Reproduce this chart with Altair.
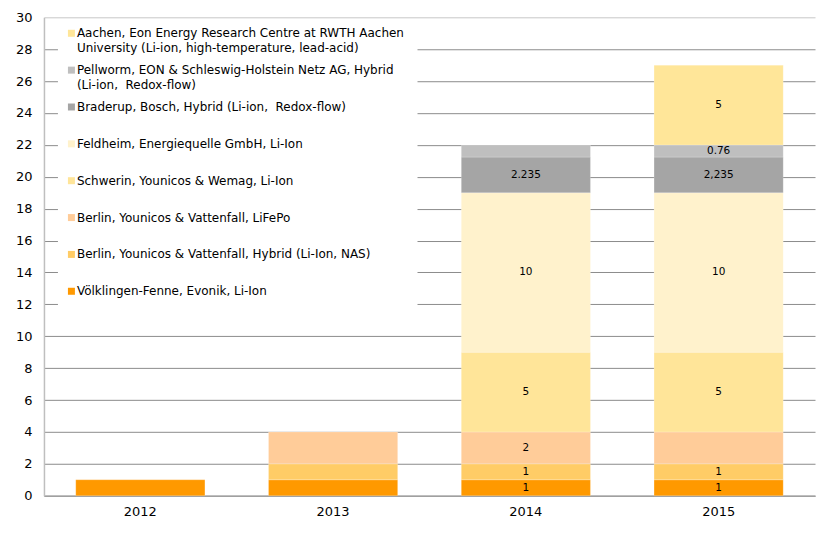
import altair as alt
import pandas as pd

FONT = "DejaVu Sans"

years = ["2012", "2013", "2014", "2015"]

# stacking order: bottom to top
series = [
    "Völklingen-Fenne, Evonik, Li-Ion",
    "Berlin, Younicos & Vattenfall, Hybrid (Li-Ion, NAS)",
    "Berlin, Younicos & Vattenfall, LiFePo",
    "Schwerin, Younicos & Wemag, Li-Ion",
    "Feldheim, Energiequelle GmbH, Li-Ion",
    "Braderup, Bosch, Hybrid (Li-ion,  Redox-flow)",
    "Pellworm, EON & Schleswig-Holstein Netz AG, Hybrid (Li-ion,  Redox-flow)",
    "Aachen, Eon Energy Research Centre at RWTH Aachen University (Li-ion, high-temperature, lead-acid)",
]
colors = ["#FF9900", "#FFCC66", "#FFCC99", "#FFE599", "#FFF2CC", "#A5A5A5", "#BFBFBF", "#FFE699"]

# legend text as displayed (per series, possibly wrapped)
legend_lines = [
    ["Völklingen-Fenne, Evonik, Li-Ion"],
    ["Berlin, Younicos & Vattenfall, Hybrid (Li-Ion, NAS)"],
    ["Berlin, Younicos & Vattenfall, LiFePo"],
    ["Schwerin, Younicos & Wemag, Li-Ion"],
    ["Feldheim, Energiequelle GmbH, Li-Ion"],
    ["Braderup, Bosch, Hybrid (Li-ion,\u00a0 Redox-flow)"],
    ["Pellworm, EON & Schleswig-Holstein Netz AG, Hybrid", "(Li-ion,\u00a0 Redox-flow)"],
    ["Aachen, Eon Energy Research Centre at RWTH Aachen", "University (Li-ion, high-temperature, lead-acid)"],
]

# values per series, per year
values = [
    [1, 1, 1, 1],
    [0, 1, 1, 1],
    [0, 2, 2, 2],
    [0, 0, 5, 5],
    [0, 0, 10, 10],
    [0, 0, 2.235, 2.235],
    [0, 0, 0.76, 0.76],
    [0, 0, 0, 5],
]
# data labels shown on segments
labels = [
    ["", "", "1", "1"],
    ["", "", "1", "1"],
    ["", "", "2", ""],
    ["", "", "5", "5"],
    ["", "", "10", "10"],
    ["", "", "2.235", "2,235"],
    ["", "", "", "0.76"],
    ["", "", "", "5"],
]

rows = []
for i, s in enumerate(series):
    for j, y in enumerate(years):
        rows.append({"year": y, "series": s, "idx": i, "value": values[i][j], "label": labels[i][j]})
df = pd.DataFrame(rows)

leg_rows = []
n = len(series)
for i, s in enumerate(series):
    slot = n - 1 - i
    for k, line in enumerate(legend_lines[i]):
        leg_rows.append({"series": s, "text": line, "pos": slot + k * 0.393, "first": k == 0})
leg_df = pd.DataFrame(leg_rows)

cscale = alt.Scale(domain=series, range=colors)
xscale = alt.Scale(domain=years, paddingInner=0.33, paddingOuter=0.165)
yscale = alt.Scale(domain=[0, 30], nice=False, zero=True)

xaxis = alt.Axis(labelAngle=0, domainColor="#A0A0A0", domainWidth=1.5, ticks=False,
                 labelPadding=10, labelFontSize=13, labelFont=FONT, labelColor="#000000", grid=False)
yaxis = alt.Axis(values=list(range(0, 31, 2)), grid=True,
                 gridColor={"condition": {"test": "datum.value === 30", "value": "#C8C8C8"},
                            "value": "#8C8C8C"},
                 gridWidth=1,
                 domainColor="#BFBFBF", domainWidth=1.5, ticks=False, labelFont=FONT,
                 labelFontSize=13, labelColor="#000000", labelPadding=12)

base = alt.Chart(df).transform_filter("datum.value > 0")

bars = base.mark_bar(stroke="#FFFFFF", strokeWidth=0.5, strokeOpacity=0.4).encode(
    x=alt.X("year:N", scale=xscale, axis=xaxis, title=None),
    y=alt.Y("value:Q", stack="zero", scale=yscale, axis=yaxis, title=None),
    color=alt.Color("series:N", scale=cscale, legend=None),
    order=alt.Order("idx:Q", sort="ascending"),
)

seg_text = base.transform_stack(
    stack="value", groupby=["year"], sort=[alt.SortField("idx", order="ascending")], as_=["v0", "v1"]
).transform_calculate(mid="(datum.v0 + datum.v1) / 2").transform_filter(
    "datum.label != ''"
).mark_text(font=FONT, fontSize=10.5, color="#000000", baseline="middle").encode(
    x=alt.X("year:N", scale=xscale, axis=xaxis, title=None),
    y=alt.Y("mid:Q", scale=yscale, axis=yaxis, title=None),
    text="label:N",
)

plot_layer = alt.layer(bars, seg_text)

bg = alt.Chart(pd.DataFrame({"a": [0]})).mark_rect(fill="#FFFFFF").encode(
    x=alt.value(14), x2=alt.value(374), y=alt.value(5), y2=alt.value(293)
)

leg_y = alt.Scale(domain=[0, n - 1], range=[16, 16 + (n - 1) * 36.9], nice=False, zero=False)

leg_sym = alt.Chart(leg_df).transform_filter("datum.first").mark_square(size=49, opacity=1).encode(
    x=alt.value(27.5),
    y=alt.Y("pos:Q", scale=leg_y, axis=None),
    color=alt.Color("series:N", scale=cscale, legend=None),
)
leg_txt = alt.Chart(leg_df).mark_text(font=FONT, fontSize=12, align="left", baseline="middle",
                                      color="#000000").encode(
    x=alt.value(33),
    y=alt.Y("pos:Q", scale=leg_y, axis=None),
    text="text:N",
)
legend_layer = alt.layer(leg_sym, leg_txt)

chart = alt.layer(bg, plot_layer, legend_layer).resolve_scale(y="independent").properties(
    width=772, height=479, autosize="none",
    padding={"left": 36, "top": 9, "right": 12, "bottom": 30},
).configure_view(stroke=None)

chart.save("out.html", embed_options={"renderer": "svg", "actions": False})
